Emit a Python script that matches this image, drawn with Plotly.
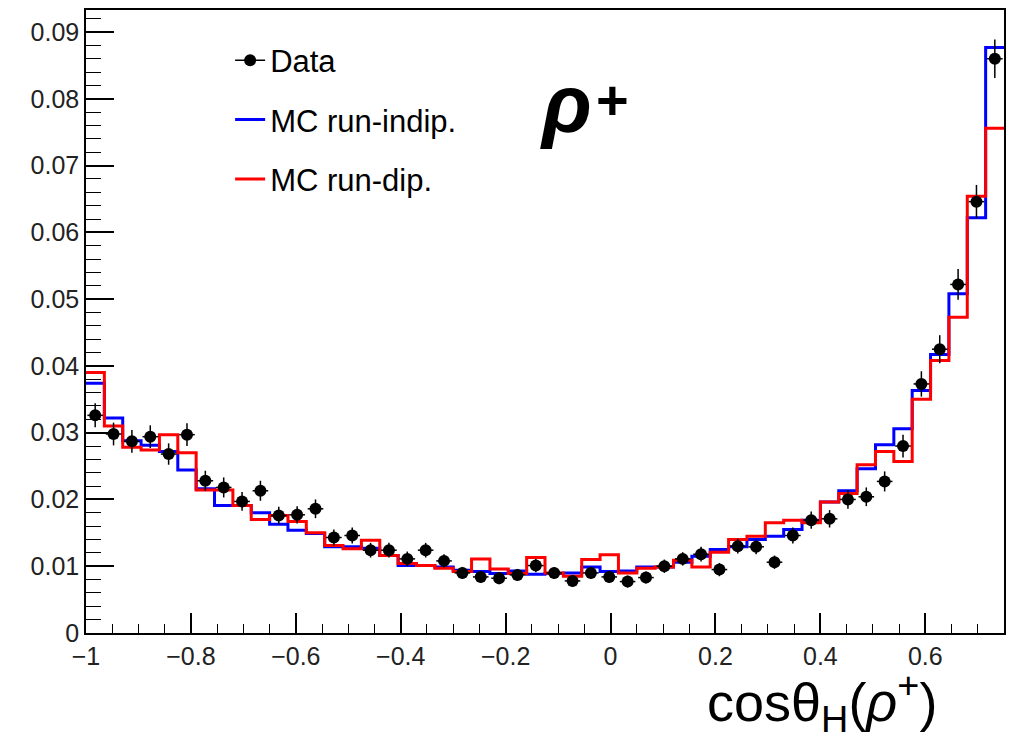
import numpy as np
import plotly.graph_objects as go

# ---- data ----
x_min, x_max, n_bins = -1.0, 0.75, 50
edges = np.linspace(x_min, x_max, n_bins + 1)
centers = 0.5 * (edges[:-1] + edges[1:])
half_width = 0.5 * (edges[1] - edges[0])

data_vals = [
    0.0326, 0.0298, 0.0287, 0.0294, 0.0268, 0.0297, 0.0228, 0.0218, 0.0197, 0.0213,
    0.0176, 0.0177, 0.0186, 0.0143, 0.0146, 0.0124, 0.0124, 0.0111, 0.0124, 0.0108,
    0.0090, 0.0084, 0.0082, 0.0087, 0.0101, 0.0090, 0.0078, 0.0090, 0.0084, 0.0077,
    0.0083, 0.0100, 0.0111, 0.0118, 0.0095, 0.0130, 0.0129, 0.0106, 0.0146, 0.0169,
    0.0171, 0.0200, 0.0204, 0.0227, 0.0280, 0.0373, 0.0425, 0.0522, 0.0646, 0.0860,
]
data_err = [
    0.0018, 0.0017, 0.0017, 0.0017, 0.0016, 0.0017, 0.0015, 0.0015, 0.0014, 0.0015,
    0.0013, 0.0013, 0.0014, 0.0012, 0.0012, 0.0011, 0.0011, 0.0011, 0.0011, 0.0010,
    0.0009, 0.0009, 0.0009, 0.0009, 0.0010, 0.0009, 0.0009, 0.0009, 0.0009, 0.0009,
    0.0009, 0.0010, 0.0010, 0.0011, 0.0010, 0.0011, 0.0011, 0.0010, 0.0012, 0.0013,
    0.0013, 0.0014, 0.0014, 0.0015, 0.0017, 0.0019, 0.0021, 0.0023, 0.0025, 0.0029,
]
mc_indip = [
    0.0374, 0.0322, 0.0288, 0.0281, 0.0272, 0.0244, 0.0216, 0.0191, 0.0191, 0.0180,
    0.0163, 0.0154, 0.0149, 0.0129, 0.0129, 0.0127, 0.0116, 0.0101, 0.0101, 0.0099,
    0.0094, 0.0092, 0.0089, 0.0093, 0.0088, 0.0089, 0.0090, 0.0099, 0.0092, 0.0093,
    0.0099, 0.0099, 0.0106, 0.0115, 0.0125, 0.0129, 0.0140, 0.0145, 0.0155, 0.0169,
    0.0196, 0.0213, 0.0246, 0.0282, 0.0306, 0.0363, 0.0417, 0.0508, 0.0622, 0.0877,
]
mc_dip = [
    0.0390, 0.0310, 0.0278, 0.0274, 0.0297, 0.0270, 0.0214, 0.0214, 0.0191, 0.0170,
    0.0176, 0.0167, 0.0150, 0.0131, 0.0126, 0.0139, 0.0116, 0.0104, 0.0101, 0.0097,
    0.0092, 0.0111, 0.0096, 0.0089, 0.0113, 0.0090, 0.0085, 0.0110, 0.0117, 0.0090,
    0.0097, 0.0099, 0.0109, 0.0099, 0.0121, 0.0140, 0.0145, 0.0165, 0.0169, 0.0165,
    0.0196, 0.0209, 0.0252, 0.0272, 0.0257, 0.0350, 0.0408, 0.0473, 0.0654, 0.0756,
]

FONT = "Liberation Sans, Arial, Helvetica, sans-serif"

fig = go.Figure()

fig.add_trace(go.Scatter(
    x=edges, y=list(mc_indip) + [mc_indip[-1]], mode="lines", line_shape="hv",
    line=dict(color="#0000ff", width=3), name="MC run-indip.",
    legendgroup="b", legendrank=2,
))
fig.add_trace(go.Scatter(
    x=edges, y=list(mc_dip) + [mc_dip[-1]], mode="lines", line_shape="hv",
    line=dict(color="#ff0000", width=3), name="MC run-dip.",
    legendgroup="c", legendrank=3,
))
fig.add_trace(go.Scatter(
    x=centers, y=data_vals, mode="markers", name="Data", showlegend=False,
    marker=dict(color="black", size=12),
    error_y=dict(type="data", array=data_err, visible=True, color="black", thickness=1.5, width=0),
    error_x=dict(type="constant", value=half_width * 0.85, visible=True, color="black", thickness=1.5, width=0),
    legendgroup="a",
))
# legend entry for the data (marker with a bar through it)
fig.add_trace(go.Scatter(
    x=[None], y=[None], mode="lines+markers", name="Data",
    marker=dict(color="black", size=12), line=dict(color="black", width=1.5),
    legendgroup="a", legendrank=1,
))

fig.add_annotation(
    x=0.523, y=0.8496, xref="paper", yref="paper", xanchor="center", yanchor="middle",
    text="<b><i>ρ</i></b>", showarrow=False,
    font=dict(family=FONT, size=82, color="black"),
)
fig.add_annotation(
    x=0.573, y=0.857, xref="paper", yref="paper", xanchor="center", yanchor="middle",
    text="<b>+</b>", showarrow=False,
    font=dict(family=FONT, size=56, color="black"),
)
fig.add_annotation(
    x=0.8017, y=-0.110, xref="paper", yref="paper", xanchor="center", yanchor="middle",
    text="cosθ<sub>H</sub>(<i>ρ</i><sup>+</sup>)", showarrow=False,
    font=dict(family=FONT, size=54, color="black"),
)

axis_common = dict(
    showgrid=False, zeroline=False, showline=True, linecolor="black", linewidth=1.5,
    mirror=True, ticks="inside", tickcolor="black", tickwidth=1.5,
    tickfont=dict(family=FONT, size=25, color="#222"),
)
fig.update_xaxes(
    **axis_common, range=[x_min, x_max], tick0=0, dtick=0.2, ticklen=20,
    minor=dict(dtick=0.05, ticklen=9, ticks="inside", tickcolor="black", tickwidth=1.2),
)
fig.update_yaxes(
    **axis_common, range=[0, 0.0933], tick0=0, dtick=0.01, ticklen=28,
    minor=dict(dtick=0.002, ticklen=15, ticks="inside", tickcolor="black", tickwidth=1.2),
)

fig.update_layout(
    width=1021, height=743,
    margin=dict(l=86, r=17, t=8, b=110),
    paper_bgcolor="white", plot_bgcolor="white",
    legend=dict(
        x=0.157, y=0.962, xanchor="left", yanchor="top",
        font=dict(family=FONT, size=31, color="black"),
        bgcolor="rgba(0,0,0,0)", tracegroupgap=16,
    ),
)

fig.write_html("out.html")
